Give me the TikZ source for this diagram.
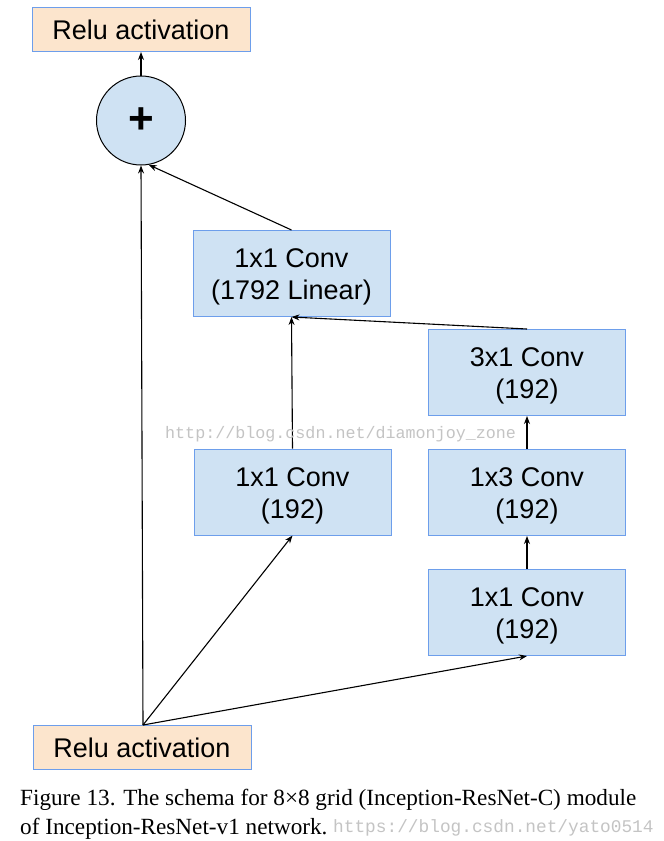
\documentclass[tikz,border=0pt]{standalone}
\usepackage{fontspec}
\setmainfont{Liberation Sans}
\newfontfamily\capfont{Liberation Serif}
\newfontfamily\wmfont{Liberation Mono}
\usetikzlibrary{arrows.meta}
\definecolor{bluefill}{HTML}{CFE2F3}
\definecolor{blueedge}{HTML}{6D9EEB}
\definecolor{orangefill}{HTML}{FCE5CD}
\definecolor{wmgray}{HTML}{C4C4C4}
\tikzset{
  convbox/.style={draw=blueedge, fill=bluefill, line width=1pt, minimum width=197pt, minimum height=86pt, inner sep=0pt},
  convtext/.style={inner sep=0pt, align=center, font=\fontsize{27}{32}\selectfont},
  relubox/.style={draw=blueedge, fill=orangefill, line width=1pt, minimum width=218pt, minimum height=44pt, inner sep=0pt, font=\fontsize{27}{32}\selectfont},
  addnode/.style={circle, draw=black, fill=bluefill, line width=1pt, minimum size=89pt, inner sep=0pt, font=\fontsize{44}{44}\selectfont\bfseries},
  conn/.style={line width=1.1pt, -{Stealth[length=8pt,width=6pt]}},
  captext/.style={anchor=base west, inner sep=0pt, font=\capfont\fontsize{23.2}{27}\selectfont},
  wmtext/.style={anchor=base west, inner sep=0pt, text=wmgray, font=\wmfont\fontsize{#1}{20}\selectfont}
}
\begin{document}
\begin{tikzpicture}[x=1pt, y=-1pt]
\useasboundingbox[fill=white] (0,0) rectangle (664,841);
\node[relubox] (top) at (141,29.5) {Relu activation};
\node[addnode] (plus) at (141,120.5) {+};
\node[convbox] (lin) at (291.5,273.5) {};
\node[convbox] (r3) at (527,372.5) {};
\node[convbox] (c1) at (292.5,492) {};
\node[convbox] (r2) at (527,492.5) {};
\node[convbox] (r1) at (527,612.5) {};
\node[convtext] (lint) at ([yshift=-3.5pt]lin.center) {1x1 Conv\\(1792 Linear)};
\node[convtext] (r3t) at ([yshift=-3.5pt]r3.center) {3x1 Conv\\(192)};
\node[convtext] (c1t) at ([yshift=-3.5pt]c1.center) {1x1 Conv\\(192)};
\node[convtext] (r2t) at ([yshift=-3.5pt]r2.center) {1x3 Conv\\(192)};
\node[convtext] (r1t) at ([yshift=-3.5pt]r1.center) {1x1 Conv\\(192)};
\node[relubox] (bot) at (142,747.5) {Relu activation};
\coordinate (src) at (143,725);
\draw[conn] (src) -- (plus.south);
\draw[conn] (src) -- (c1.south);
\draw[conn] (src) -- (r1.south);
\draw[conn] (r1.north) -- (r2.south);
\draw[conn] (r2.north) -- (r3.south);
\draw[conn] (r3.north) -- (lin.south);
\draw[conn] (c1.north) -- (lin.south);
\draw[conn] (lin.north) -- (plus.-80);
\draw[conn] (plus.north) -- (top.south);
\node[wmtext=16.7] (wm1) at (165,438) {http://blog.csdn.net/diamonjoy\_zone};
\node[captext] (cap1) at (20,805) {Figure 13. The schema for 8×8 grid (Inception-ResNet-C) module};
\node[captext] (cap2) at (20,834) {of Inception-ResNet-v1 network.};
\node[wmtext=17.8] (wm2) at (333,832) {https://blog.csdn.net/yato0514};
\end{tikzpicture}
\end{document}
